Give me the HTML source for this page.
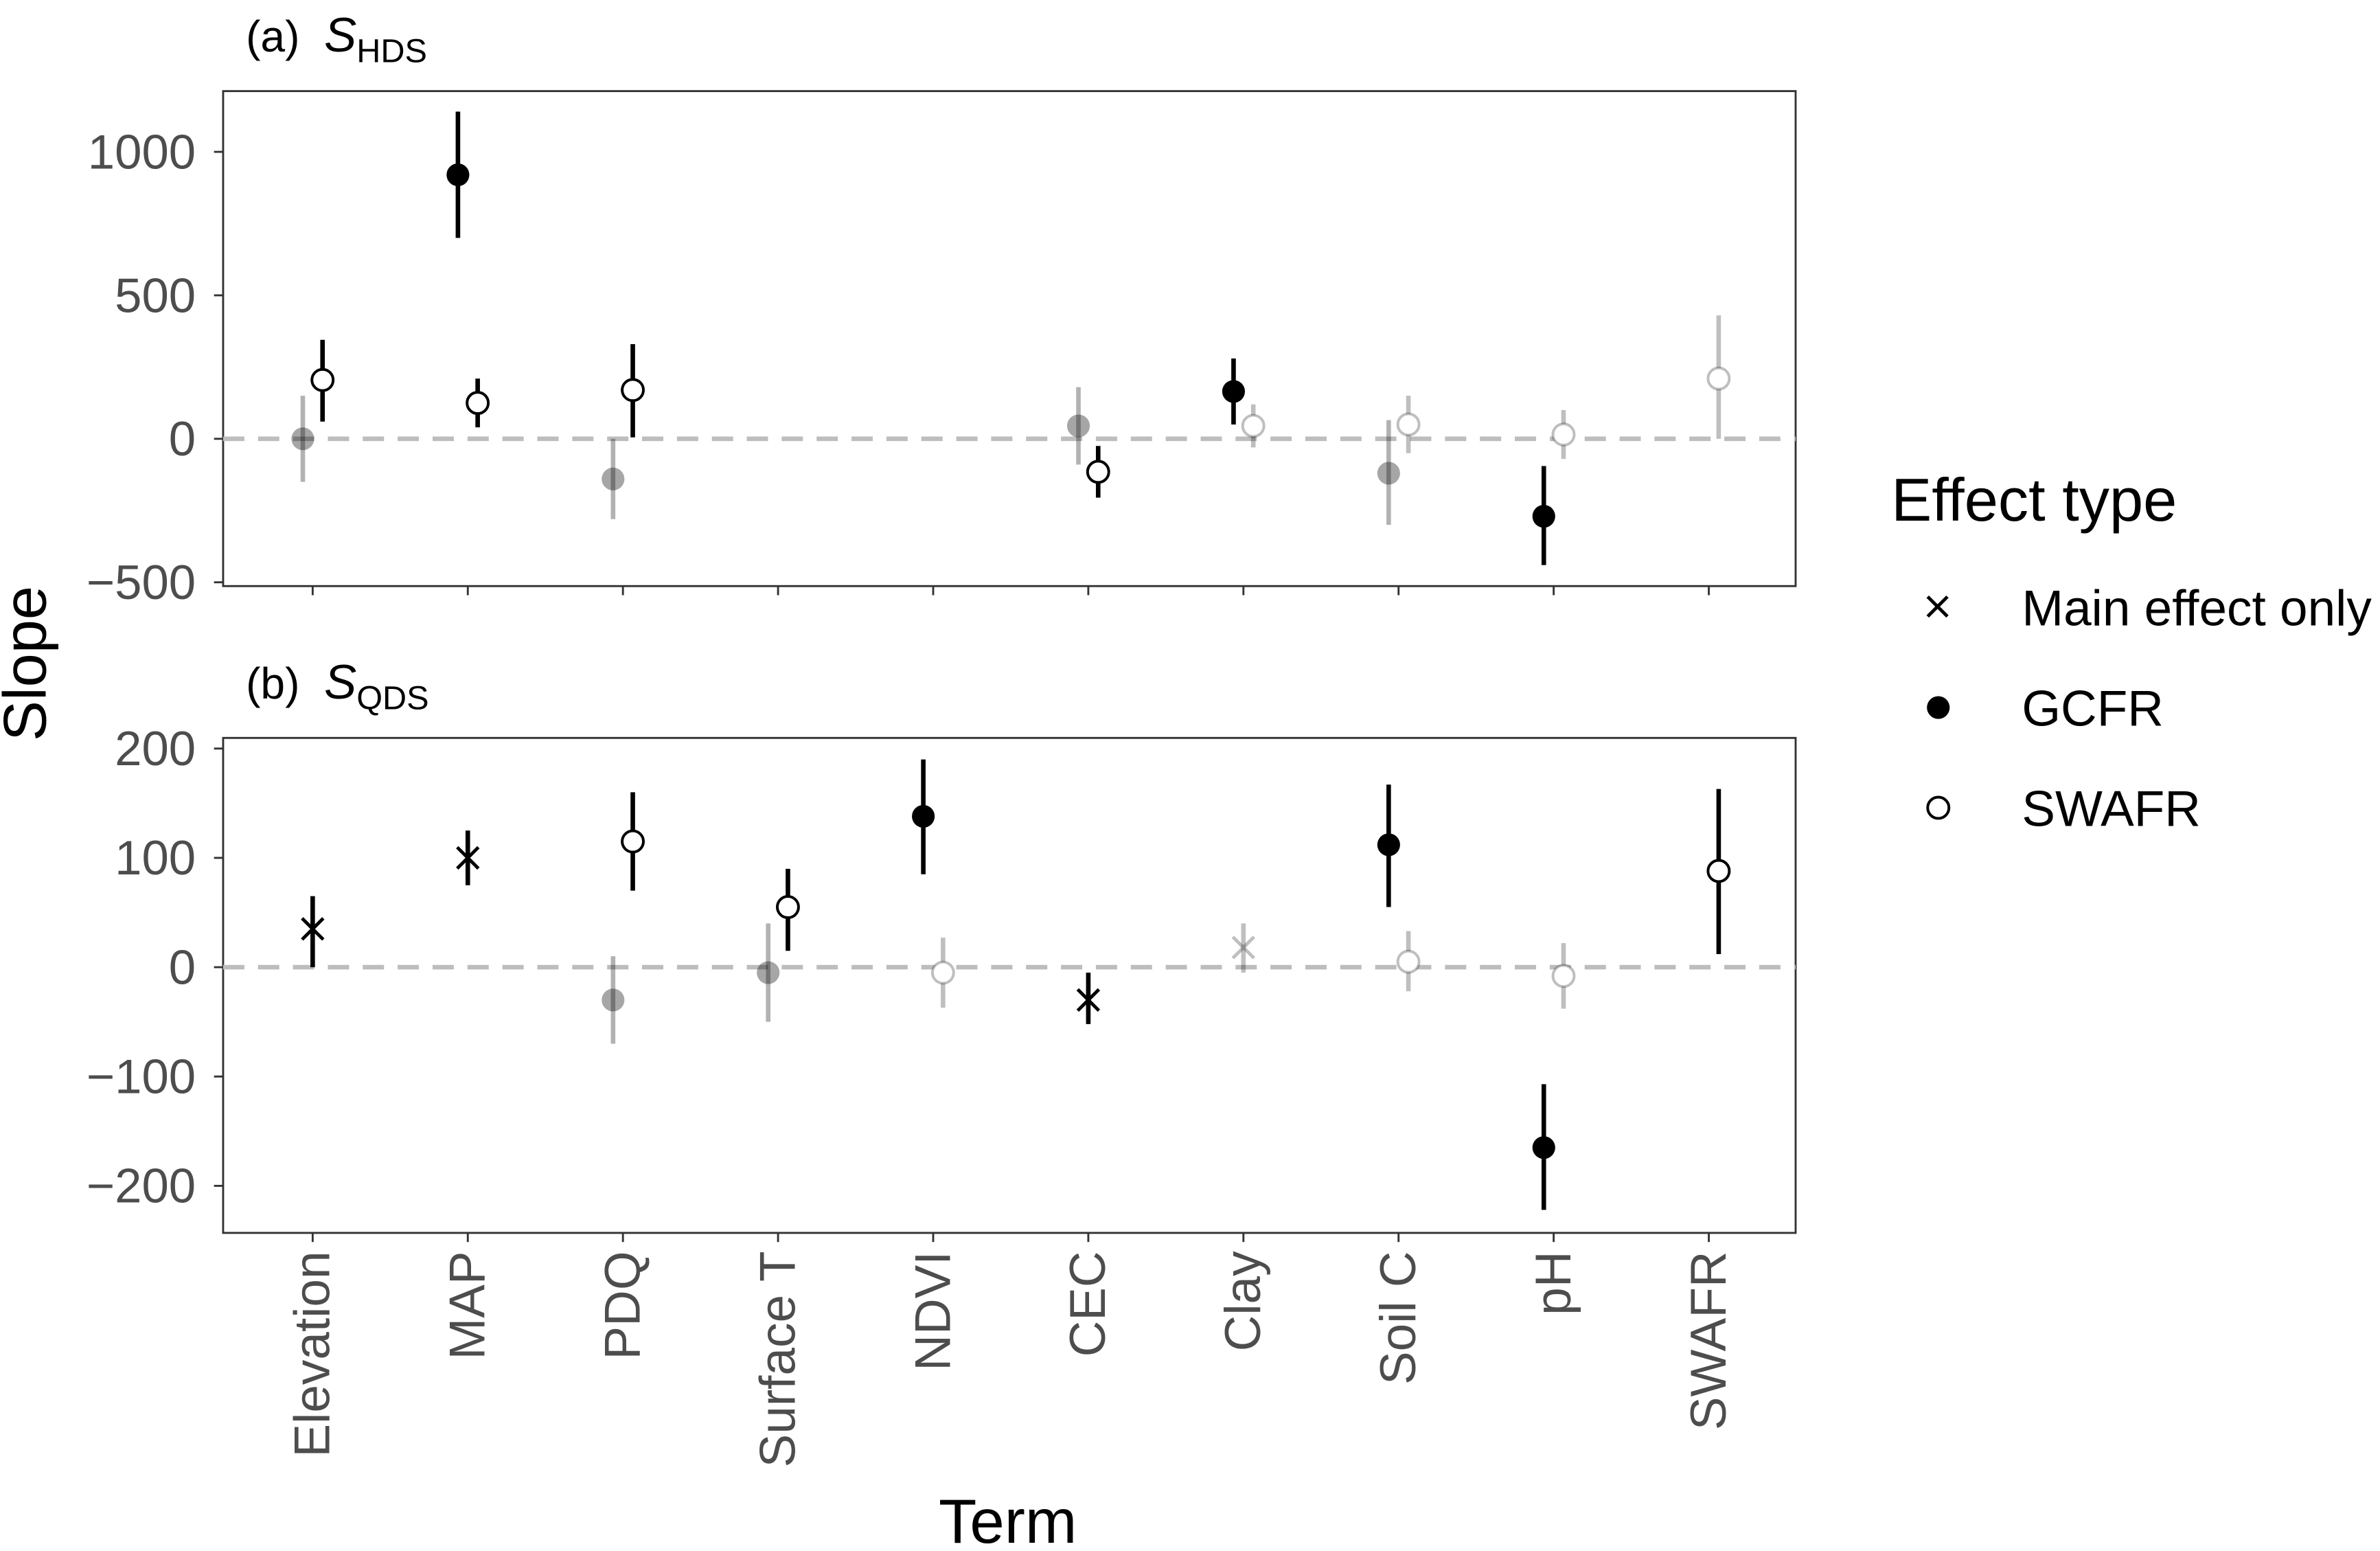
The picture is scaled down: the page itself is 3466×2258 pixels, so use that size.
<!DOCTYPE html>
<html><head><meta charset="utf-8"><style>
html,body{margin:0;padding:0;background:#fff;}
svg{display:block;font-family:"Liberation Sans",sans-serif;}
</style></head><body>
<svg id="chart" width="3466" height="2258" viewBox="0 0 1568 1021.5" preserveAspectRatio="none">
<rect x="0" y="0" width="1568" height="1022" fill="#fff"/>
<g id="panelA"></g>
<g id="panelB"></g>
<text x="30" y="437" font-size="40" text-anchor="middle" transform="rotate(-90 30 437)">Slope</text>
<text x="664" y="1016" font-size="41" text-anchor="middle">Term</text>
<g>
<text x="1246" y="343" font-size="40">Effect type</text>
<g><path d="M1270,393 l13,13 M1283,393 l-13,13" stroke="#000" stroke-width="2.2"/><text x="1332" y="412" font-size="33">Main effect only</text></g>
<g><circle cx="1277" cy="466" r="7.5" fill="#000"/><text x="1332" y="478" font-size="33">GCFR</text></g>
<g><circle cx="1277" cy="532" r="7" fill="#fff" stroke="#000" stroke-width="1.8"/><text x="1332" y="544" font-size="33">SWAFR</text></g>
</g>
</svg>
<script>
const categories=["Elevation","MAP","PDQ","Surface T","NDVI","CEC","Clay","Soil C","pH","SWAFR"];
// panel a
const aTerm=[0,0,1,1,2,2,5,5,6,6,7,7,8,8,9];
const aType=["G","S","G","S","G","S","G","S","G","S","G","S","G","S","S"];
const aVal=[0,205,920,125,-140,170,45,-115,165,45,-120,50,-270,15,210];
const aLo=[-150,60,700,40,-280,5,-90,-205,50,-30,-300,-50,-440,-70,0];
const aHi=[150,345,1140,210,0,330,180,-25,280,120,65,150,-95,100,430];
const aFaded=[1,0,0,0,1,0,1,0,0,1,1,1,0,1,1];
const aTicks=[-500,0,500,1000];
// panel b
const bTerm=[0,1,2,2,3,3,4,4,5,6,7,7,8,8,9];
const bType=["M","M","G","S","G","S","G","S","M","M","G","S","G","S","S"];
const bVal=[35,100,-30,115,-5,55,138,-5,-30,18,112,5,-165,-8,88];
const bLo=[0,75,-70,70,-50,15,85,-37,-52,-5,55,-22,-222,-38,12];
const bHi=[65,125,10,160,40,90,190,27,-5,40,167,33,-107,22,163];
const bFaded=[0,0,1,0,1,0,0,1,0,1,0,1,0,1,0];
const bTicks=[-200,-100,0,100,200];

const NS="http://www.w3.org/2000/svg";
function mk(p,t,a){const e=document.createElementNS(NS,t);for(const k in a)e.setAttribute(k,a[k]);p.appendChild(e);return e;}
const xScale=i=>206+i*102.2;
const off={G:-6.5,S:6.5,M:0};

function panel(g,top,bottom,scaleY,ticks,term,type,val,lo,hi,faded,label,sub){
  const frame=mk(g,"rect",{x:147,y:top,width:1036,height:bottom-top,fill:"none",stroke:"#333","stroke-width":1.3});
  
  
  ticks.forEach(t=>{
    const y=scaleY(t);
    mk(g,"line",{x1:141,x2:147,y1:y,y2:y,stroke:"#333","stroke-width":1.3});
    const tx=mk(g,"text",{x:129,y:y+11,"font-size":32,"text-anchor":"end",fill:"#4d4d4d"});
    tx.textContent=t<0?"\u2212"+(-t):String(t);
    
    
  });
  categories.forEach((c,i)=>mk(g,"line",{x1:xScale(i),x2:xScale(i),y1:bottom,y2:bottom+6,stroke:"#333","stroke-width":1.3}));
  const z=scaleY(0);
  const zl=mk(g,"line",{x1:147,x2:1183,y1:z,y2:z,stroke:"#bdbdbd","stroke-width":3,"stroke-dasharray":"14 9"});
  
  
  const t=mk(g,"text",{x:162,y:top-26,"font-size":29});
  t.innerHTML='x<tspan font-style="italic" font-size="32">S</tspan><tspan font-size="22" dy="7">'+sub+'</tspan>';
  t.firstChild.textContent=label+"\u00a0\u00a0";
  
  
  val.forEach((v,k)=>{
    const x=xScale(term[k])+off[type[k]];
    const y=scaleY(v);
    const f=faded[k];
    const col=f?(type[k]==="G"?"rgba(0,0,0,0.3)":"rgba(0,0,0,0.25)"):"#000";
    const grp=mk(g,"g",{});
    
    
    mk(grp,"line",{x1:x,x2:x,y1:scaleY(lo[k]),y2:scaleY(hi[k]),stroke:col,"stroke-width":3});
    if(type[k]==="G") mk(grp,"circle",{cx:x,cy:y,r:7.5,fill:f?"rgba(0,0,0,0.35)":"#000"});
    else if(type[k]==="S") mk(grp,"circle",{cx:x,cy:y,r:7,fill:"#fff",stroke:col,"stroke-width":1.8});
    else mk(grp,"path",{d:`M${x-7},${y-7}L${x+7},${y+7}M${x+7},${y-7}L${x-7},${y+7}`,stroke:col,"stroke-width":2.2});
  });
}
const ga=document.getElementById("panelA"),gb=document.getElementById("panelB");
panel(ga,60,386,v=>289-v*0.189,aTicks,aTerm,aType,aVal,aLo,aHi,aFaded,"(a)","HDS");
panel(gb,486,812,v=>637-v*0.72,bTicks,bTerm,bType,bVal,bLo,bHi,bFaded,"(b)","QDS");
categories.forEach((c,i)=>{
  const x=xScale(i)+11;
  const t=mk(gb,"text",{x:x,y:824,"font-size":33,"text-anchor":"end",fill:"#4d4d4d",transform:`rotate(-90 ${x} 824)`});
  t.textContent=c;
  
  
});
</script>
</body></html>
